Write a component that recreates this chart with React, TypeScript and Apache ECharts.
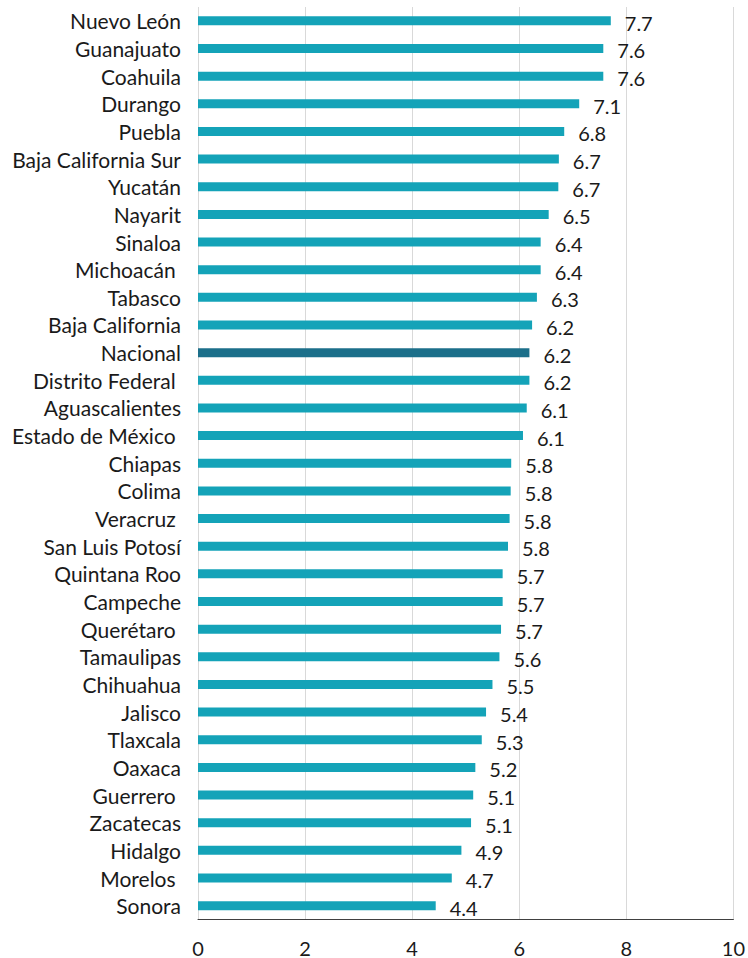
import React, { useEffect, useRef } from "react";
import * as echarts from "echarts";

const categories = [
  "Nuevo León", "Guanajuato", "Coahuila", "Durango", "Puebla", "Baja California Sur",
  "Yucatán", "Nayarit", "Sinaloa", "Michoacán ", "Tabasco", "Baja California",
  "Nacional", "Distrito Federal ", "Aguascalientes", "Estado de México ", "Chiapas",
  "Colima", "Veracruz ", "San Luis Potosí", "Quintana Roo", "Campeche", "Querétaro ",
  "Tamaulipas", "Chihuahua", "Jalisco", "Tlaxcala", "Oaxaca", "Guerrero ", "Zacatecas",
  "Hidalgo", "Morelos ", "Sonora",
];

const values = [
  7.71, 7.57, 7.57, 7.12, 6.84, 6.74, 6.73, 6.55, 6.40, 6.40, 6.33, 6.24,
  6.19, 6.19, 6.14, 6.07, 5.85, 5.84, 5.82, 5.79, 5.69, 5.69, 5.66,
  5.63, 5.50, 5.38, 5.30, 5.18, 5.14, 5.10, 4.92, 4.74, 4.44,
];

const highlight = "Nacional";
const xTicks = { min: 0, max: 10, interval: 2 };

export default function App() {
  const ref = useRef<HTMLDivElement>(null);
  useEffect(() => {
    if (!ref.current) return;
    const chart = echarts.init(ref.current, undefined, { renderer: "svg" });
    const font = "Lato, 'Noto Sans', sans-serif";
    chart.setOption({
      animation: false,
      grid: { left: 198, right: 14, top: 7, bottom: 38.5, containLabel: false },
      xAxis: {
        type: "value",
        min: xTicks.min,
        max: xTicks.max,
        interval: xTicks.interval,
        axisLine: { show: true, lineStyle: { color: "#404040", width: 1 } },
        axisTick: { show: false },
        splitLine: { show: true, lineStyle: { color: "#d9d9d9", width: 1 } },
        axisLabel: { color: "#1a1a1a", fontSize: 20, fontFamily: font, margin: 18 },
      },
      yAxis: {
        type: "category",
        inverse: true,
        data: categories,
        axisLine: { show: false },
        axisTick: { show: false },
        splitLine: { show: false },
        axisLabel: { color: "#1a1a1a", fontSize: 21, fontFamily: font, margin: 17 },
      },
      series: [
        {
          type: "bar",
          barWidth: 9,
          data: values.map((v, i) => ({
            value: v,
            itemStyle: { color: categories[i].trim() === highlight ? "#1c6f8a" : "#14a3b8" },
          })),
          label: {
            show: true,
            position: "right",
            distance: 14,
            offset: [0, 2],
            color: "#1a1a1a",
            fontSize: 20,
            fontFamily: font,
            formatter: (p: any) => Number(p.value).toFixed(1),
          },
        },
      ],
    });
    return () => chart.dispose();
  }, []);
  return (
    <div
      ref={ref}
      style={{ position: "absolute", left: 0, top: 0, width: 748, height: 958 }}
    />
  );
}
